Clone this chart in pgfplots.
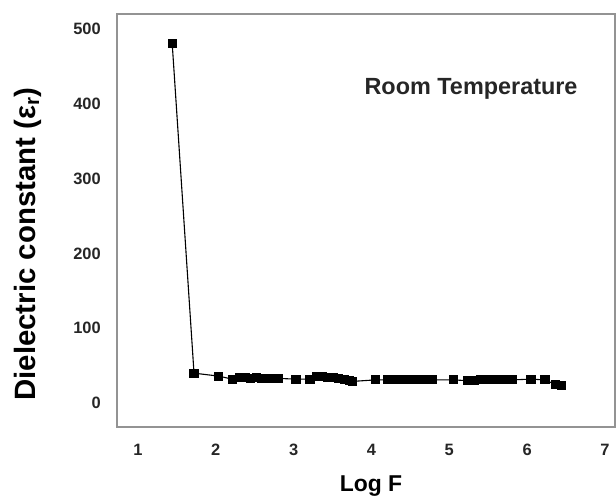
\documentclass[border=0pt]{standalone}
\usepackage{fontspec}
\setmainfont{Liberation Sans}
\usepackage{pgfplots}
\pgfplotsset{compat=1.18}

\begin{document}
\begin{tikzpicture}
\begin{axis}[
    scale only axis,
    width=498bp, height=413bp,
    xmin=0.73, xmax=7.13, ymin=-32, ymax=520,
    xtick={1,2,3,4,5,6,7},
    ytick={0,100,200,300,400,500},
    major tick length=0pt,
    axis line style={draw=gray!85, line width=1.4bp},
    /pgf/number format/assume math mode=true,
    tick label style={font=\fontsize{16.5}{18}\selectfont\bfseries, inner sep=0pt, text=black!85},
    xticklabel style={anchor=center, yshift=-23bp},
    yticklabel style={anchor=east, xshift=-16bp},
    xlabel={Log F},
    xlabel style={at={(rel axis cs:0.510,-0.157)}, anchor=base, font=\fontsize{23}{26}\selectfont\bfseries, inner sep=0pt},
    ylabel={Dielectric constant (ε\textsubscript{r})},
    ylabel style={at={(rel axis cs:-0.179,0.443)}, anchor=center, font=\fontsize{29.5}{32}\selectfont\bfseries, inner sep=0pt},
    clip=false,
]
\addplot[black, line width=1.1bp, mark=square*, mark size=4bp, mark options={solid, fill=black}]
    coordinates {
    (1.44,480) (1.72,40) (2.04,36) (2.21,32)
    (2.31,34) (2.38,34) (2.45,33) (2.52,34) (2.59,33) (2.66,33) (2.73,33) (2.80,33)
    (3.03,32) (3.21,32)
    (3.30,35) (3.37,35) (3.44,34) (3.51,34) (3.58,33) (3.65,32) (3.72,30) (3.76,29)
    (4.05,31) (4.21,31)
    (4.30,31) (4.37,31) (4.44,31) (4.51,31) (4.58,31) (4.65,31) (4.72,31) (4.79,31)
    (5.05,31) (5.23,30)
    (5.33,30) (5.40,31) (5.47,31) (5.54,31) (5.61,31) (5.68,31) (5.75,31) (5.81,31)
    (6.05,32) (6.23,31) (6.36,25) (6.44,23)
    };
\node[font=\fontsize{23.5}{26}\selectfont\bfseries, text=black!85] at (axis cs:5.28,420) {Room Temperature};
\path[use as bounding box] (rel axis cs:-0.2349,-0.1646) rectangle (rel axis cs:1.002,1.0339);
\end{axis}
\end{tikzpicture}
\end{document}
